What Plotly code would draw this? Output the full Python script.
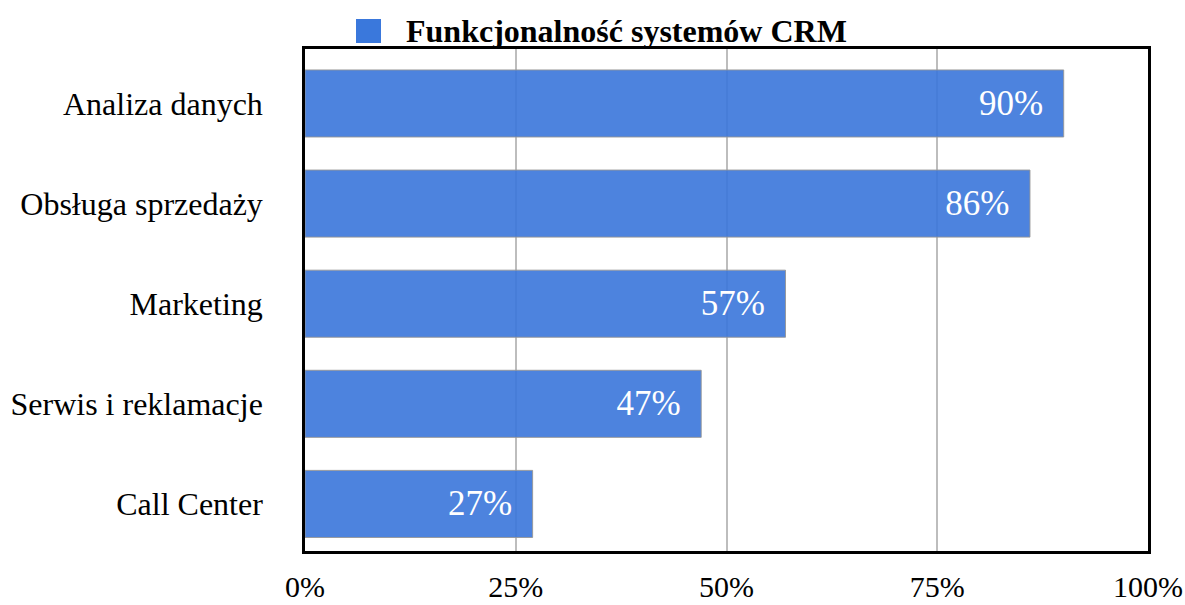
import plotly.graph_objects as go

categories = ["Call Center", "Serwis i reklamacje", "Marketing", "Obsługa sprzedaży", "Analiza danych"]
values = [27, 47, 57, 86, 90]
x_ticks = [0, 25, 50, 75, 100]
x_tick_labels = ["0%", "25%", "50%", "75%", "100%"]
series_name = "Funkcjonalność systemów CRM"

SERIF = "'Liberation Serif', 'Times New Roman', Times, serif"

W, H = 1185, 605
L, R, T, B = 305, 37, 49, 54
pw = W - L - R
ph = H - T - B

def px_x(p):
    return (p - L) / pw

def px_y(p):
    return (H - B - p) / ph

fig = go.Figure()
fig.add_trace(go.Bar(
    y=categories,
    x=values,
    orientation="h",
    name=series_name,
    width=0.67,
    marker=dict(color="rgba(58,118,218,0.9)",
                line=dict(color="rgba(150,150,150,0.9)", width=1)),
    text=[f"{v}%\u00a0\u00a0" for v in values],
    textposition="inside",
    insidetextanchor="end",
    textfont=dict(family=SERIF, size=35, color="white"),
    showlegend=False,
))

fig.update_layout(
    width=W, height=H,
    margin=dict(l=L, r=R, t=T, b=B, autoexpand=False),
    plot_bgcolor="white",
    paper_bgcolor="white",
    font=dict(family=SERIF, color="black"),
    xaxis=dict(
        range=[0, 100],
        tickvals=x_ticks,
        ticktext=x_tick_labels,
        showgrid=True, gridcolor="#bdbdbd", gridwidth=2,
        zeroline=False,
        showline=True, linecolor="black", linewidth=2.5, mirror=True,
        ticks="", ticklabelstandoff=7, automargin=False,
        tickfont=dict(family=SERIF, size=30, color="black"),
    ),
    yaxis=dict(
        range=[-0.47, 4.544],
        showgrid=False,
        zeroline=False,
        showline=True, linecolor="black", linewidth=2.5, mirror=True,
        ticks="", ticklabelstandoff=33, automargin=False,
        tickfont=dict(family=SERIF, size=32, color="black"),
    ),
    shapes=[dict(
        type="rect", xref="paper", yref="paper",
        x0=px_x(356), x1=px_x(381), y0=px_y(43), y1=px_y(19),
        fillcolor="#3a78dc", line=dict(width=0),
    )],
    annotations=[dict(
        text="<b>" + series_name + "</b>",
        xref="paper", yref="paper",
        x=px_x(404), y=px_y(31),
        xanchor="left", yanchor="middle",
        showarrow=False,
        font=dict(family=SERIF, size=32, color="black"),
    )],
)

fig.write_html("out.html")
